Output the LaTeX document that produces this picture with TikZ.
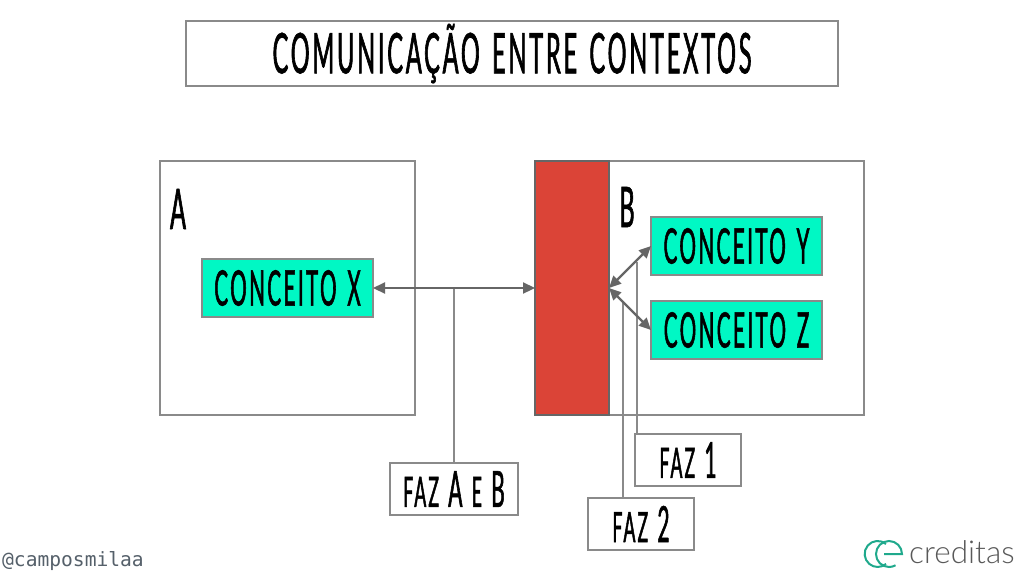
\documentclass[tikz,border=0pt]{standalone}
\usepackage{fontspec}
\usetikzlibrary{arrows.meta}
\newfontfamily\amatic[FakeStretch=0.42,FakeBold=1.1,LetterSpace=5,WordSpace=1.4]{Lato}
\newfontfamily\monof{DejaVu Sans Mono}
\newfontfamily\logof{Lato Light}
\definecolor{teal1}{HTML}{00F8C4}
\definecolor{red1}{HTML}{DB4437}
\definecolor{line1}{HTML}{8A8A8A}
\definecolor{arrow1}{HTML}{666666}
\definecolor{logog}{HTML}{1FA98C}
\definecolor{hand}{HTML}{55606A}
\newcommand{\ttl}{\amatic\fontsize{56}{56}\selectfont}
\newcommand{\cpt}{\amatic\fontsize{49}{49}\selectfont}
\newcommand{\fzt}{\amatic\fontsize{42}{42}\selectfont}
\newcommand{\fzb}{\amatic\fontsize{50}{50}\selectfont}
\newcommand{\dn}[1]{\raisebox{-2pt}{#1}}
\tikzset{
  x=1pt,y=-1pt,
  box/.style={draw=line1,line width=1.2pt,fill=white,inner sep=0pt,outer sep=0pt,anchor=north west,font=\amatic},
  tealbox/.style={box,fill=teal1,font=\cpt},
  lbl/.style={font=\amatic,inner sep=0pt,text=black},
  faz/.style={box,font=\fzt},
  conn/.style={draw=line1,line width=1.5pt},
  biarrow/.style={draw=arrow1,line width=2.2pt,{Triangle[length=12pt,width=11pt]}-{Triangle[length=12pt,width=11pt]}},
}
\begin{document}
\begin{tikzpicture}
\useasboundingbox (0,0) rectangle (1024,576);
\fill[white] (0,0) rectangle (1024,576);
\node[box,minimum width=652pt,minimum height=65pt,font=\ttl] (title) at (186,21) {\dn{COMUNICAÇÃO ENTRE CONTEXTOS}};
\node[box,minimum width=255pt,minimum height=254pt] (A) at (160,161) {};
\node[box,minimum width=329pt,minimum height=254pt] (B) at (535,161) {};
\node[box,fill=red1,draw=arrow1,minimum width=74pt,minimum height=254pt] (R) at (535,161) {};
\node[lbl,font=\ttl] (la) at (178,209) {A};
\node[lbl,font=\ttl] (lb) at (627,207) {B};
\node[tealbox,minimum width=171pt,minimum height=58pt] (X) at (202,259) {\dn{CONCEITO X}};
\node[tealbox,minimum width=171pt,minimum height=58pt] (Y) at (651,217) {\dn{CONCEITO Y}};
\node[tealbox,minimum width=171pt,minimum height=58pt] (Z) at (651,301) {\dn{CONCEITO Z}};
\coordinate (junc) at (454,288);
\coordinate (t2) at (623,303);
\coordinate (t1) at (637,262);
\draw[conn] (t2) -- (623,498) coordinate (e2);
\draw[conn] (t1) -- (637,434) coordinate (e1);
\node[faz,minimum width=128pt,minimum height=52pt] (fab) at (390,463) {FAZ {\fzb A} E {\fzb B}};
\node[faz,minimum width=106pt,minimum height=52pt] (f1) at (635,434) {FAZ {\fzb 1}};
\node[faz,minimum width=106pt,minimum height=52pt] (f2) at (588,498) {FAZ {\fzb 2}};
\draw[conn] (junc) -- (fab.north);
\draw[biarrow] (X.east) -- (R.west);
\draw[biarrow] (R.east) -- (Y.west);
\draw[biarrow] (R.east) -- (Z.west);
\node[anchor=west,inner sep=0pt,text=hand,font=\monof\fontsize{19.6}{19.6}\selectfont] (handle) at (2,561) {@camposmilaa};
\begin{scope}[draw=logog,line width=2pt]
\draw (886,544) arc[start angle=50,end angle=310,radius=13pt];
\draw (884,554) -- (902,554) arc[start angle=0,end angle=300,radius=13pt];
\end{scope}
\node[anchor=west,inner sep=0pt,text=black!65,font=\logof\fontsize{31.5}{31.5}\selectfont] (logo) at (909,552) {creditas};
\end{tikzpicture}
\end{document}
